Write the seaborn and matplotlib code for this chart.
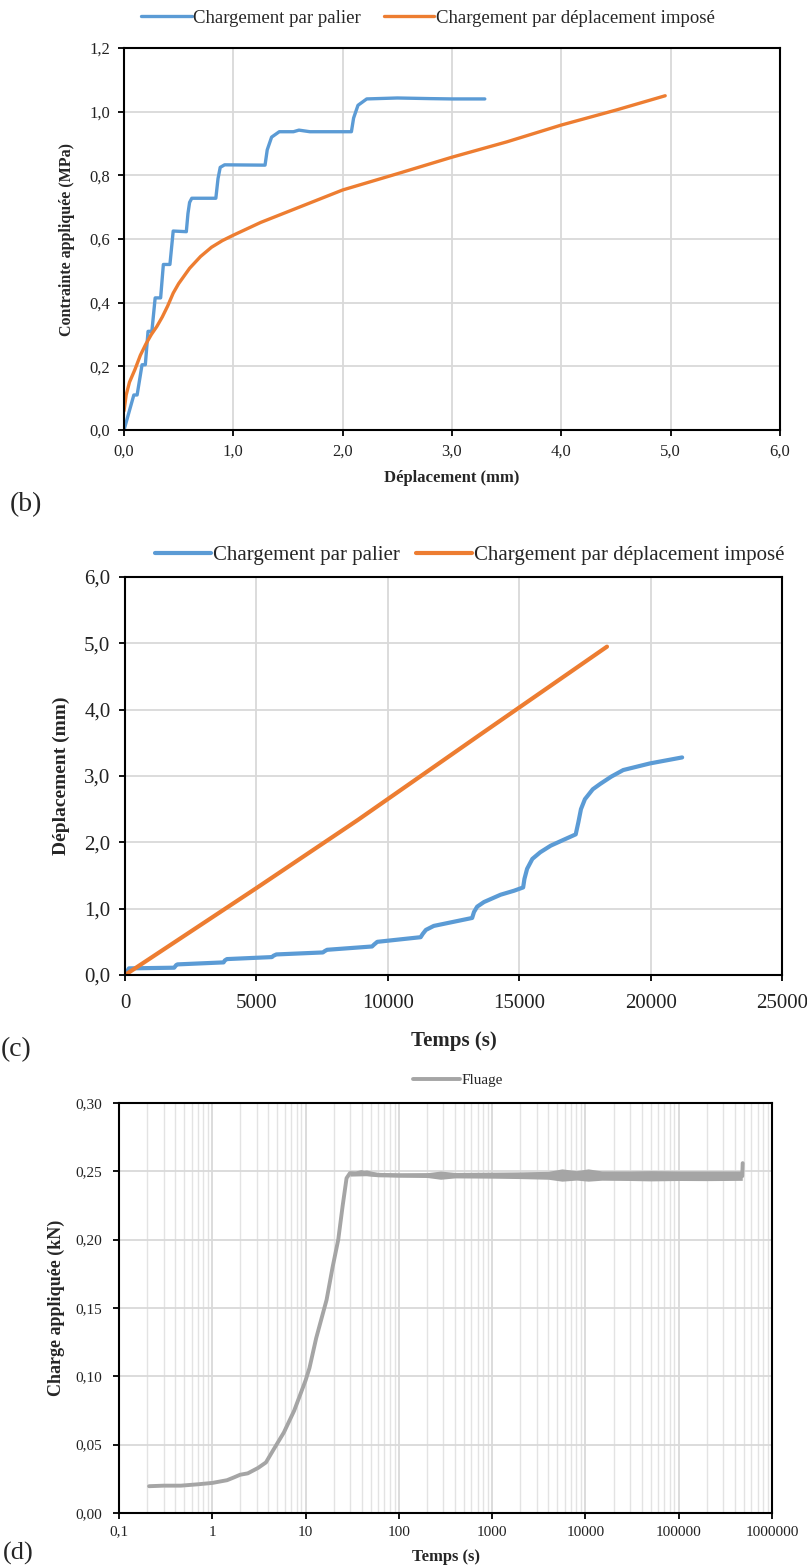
import matplotlib
matplotlib.use("Agg")
import matplotlib.pyplot as plt
import matplotlib.ticker as mticker
import pandas as pd
import seaborn as sns

sns.set_style("whitegrid")
plt.rcParams["font.family"] = ["Liberation Serif", "DejaVu Serif"]

BLUE = "#5B9BD5"
ORANGE = "#ED7D31"
GREY = "#A5A5A5"
GRID = "#D9D9D9"

# ---- (b) contrainte / deplacement ----
b_palier_x = [0.00, 0.09, 0.12, 0.165, 0.195, 0.22, 0.255, 0.285, 0.335, 0.36, 0.42, 0.45,
              0.57, 0.585, 0.60, 0.62, 0.84, 0.86, 0.88, 0.92, 1.29, 1.31, 1.35, 1.42,
              1.55, 1.60, 1.70, 2.08, 2.10, 2.14, 2.22, 2.50, 2.80, 3.00, 3.30]
b_palier_y = [0.00, 0.11, 0.11, 0.205, 0.205, 0.31, 0.31, 0.415, 0.415, 0.52, 0.52, 0.625,
              0.623, 0.68, 0.715, 0.728, 0.728, 0.79, 0.825, 0.833, 0.832, 0.88, 0.92, 0.937,
              0.937, 0.942, 0.937, 0.937, 0.98, 1.02, 1.04, 1.043, 1.041, 1.04, 1.04]
b_impose_x = [0.00, 0.02, 0.05, 0.10, 0.15, 0.20, 0.25, 0.30, 0.35, 0.40, 0.45, 0.50, 0.60,
              0.70, 0.80, 0.90, 1.00, 1.25, 1.50, 2.00, 2.50, 3.00, 3.50, 4.00, 4.50, 4.95]
b_impose_y = [0.06, 0.11, 0.15, 0.19, 0.235, 0.27, 0.30, 0.325, 0.355, 0.39, 0.43, 0.46, 0.508,
              0.545, 0.574, 0.595, 0.612, 0.652, 0.686, 0.754, 0.805, 0.857, 0.905, 0.958,
              1.005, 1.05]

# ---- (c) deplacement / temps ----
c_palier_t = [0, 150, 1870, 1950, 2000, 3750, 3800, 3880, 5590, 5650, 5760, 7530, 7600, 7690,
              9400, 9480, 9600, 11250, 11330, 11450, 11750, 13210, 13280, 13400, 13660, 14290,
              14800, 15150, 15200, 15300, 15500, 15800, 16200, 16700, 17150, 17250, 17350,
              17500, 17800, 18080, 18500, 18960, 19980, 21200]
c_palier_y = [0.0, 0.10, 0.11, 0.15, 0.16, 0.19, 0.22, 0.24, 0.27, 0.29, 0.31, 0.34, 0.36, 0.38,
              0.43, 0.46, 0.50, 0.57, 0.62, 0.68, 0.74, 0.86, 0.95, 1.03, 1.10, 1.21,
              1.27, 1.32, 1.45, 1.60, 1.75, 1.85, 1.95, 2.04, 2.12, 2.30, 2.50,
              2.65, 2.80, 2.88, 2.99, 3.09, 3.19, 3.28]
c_impose_t = [0, 5000, 8870, 13500, 18340]
c_impose_y = [0.0, 1.31, 2.34, 3.62, 4.95]

# ---- (d) fluage ----
d_t = [0.21, 0.3, 0.46, 0.7, 1.0, 1.2, 1.44, 1.7, 1.99, 2.4, 3.1, 3.76, 4.5, 5.86, 7.56, 10.0,
       11.0, 13.0, 16.8, 19.5, 22.4, 25.0, 27.5, 29.9, 35, 40, 45, 60, 100, 300, 1000, 3000,
       10000, 30000, 100000, 300000, 470000, 480000, 485000]
d_y = [0.0196, 0.020, 0.020, 0.021, 0.022, 0.023, 0.024, 0.026, 0.028, 0.029, 0.033, 0.037,
       0.046, 0.059, 0.075, 0.097, 0.106, 0.128, 0.156, 0.18, 0.20, 0.225, 0.245, 0.2487,
       0.2485, 0.2495, 0.248, 0.2475, 0.247, 0.247, 0.247, 0.247, 0.247, 0.247, 0.247,
       0.247, 0.247, 0.2465, 0.256]
d_band_t = [30, 45, 60, 100, 200, 280, 400, 1000, 2000, 4000, 5600, 8000, 10700, 15000,
            30000, 50000, 100000, 200000, 480000]
d_band_lo = [0.2465, 0.2468, 0.2460, 0.2458, 0.2455, 0.2442, 0.2452, 0.2450, 0.2447, 0.2442,
             0.2428, 0.2436, 0.2428, 0.2435, 0.2433, 0.2430, 0.2433, 0.2432, 0.2434]
d_band_hi = [0.2495, 0.2510, 0.2490, 0.2488, 0.2490, 0.2502, 0.2492, 0.2494, 0.2496, 0.2500,
             0.2518, 0.2505, 0.2518, 0.2503, 0.2503, 0.2505, 0.2503, 0.2503, 0.2503]

W, H = 807, 1568
fig = plt.figure(figsize=(W / 100, H / 100), dpi=100)


def px_axes(left, top, right, bottom):
    return fig.add_axes([left / W, 1 - bottom / H, (right - left) / W, (bottom - top) / H])


def style(ax, fs, pad):
    ax.grid(True, color=GRID, lw=1.3)
    for s in ax.spines.values():
        s.set_color("black")
        s.set_linewidth(1.5)
    ax.tick_params(axis="both", which="major", bottom=True, left=True, direction="out",
                   length=4, width=1.3, color="black", labelsize=fs, labelcolor="#222222",
                   pad=pad)


comma1 = mticker.FuncFormatter(lambda v, p: f"{v:.1f}".replace(".", ","))

# (b)
ax = px_axes(124, 48, 780, 430)
df = pd.DataFrame({"x": b_palier_x, "y": b_palier_y})
sns.lineplot(data=df, x="x", y="y", ax=ax, color=BLUE, lw=2.4, sort=False, estimator=None,
             label="Chargement par palier")
df = pd.DataFrame({"x": b_impose_x, "y": b_impose_y})
sns.lineplot(data=df, x="x", y="y", ax=ax, color=ORANGE, lw=2.4, sort=False, estimator=None,
             label="Chargement par déplacement imposé")
style(ax, 12, 6)
ax.set_xlim(0, 6)
ax.set_ylim(0, 1.2)
ax.xaxis.set_major_locator(mticker.MultipleLocator(1))
ax.yaxis.set_major_locator(mticker.MultipleLocator(0.2))
ax.xaxis.set_major_formatter(comma1)
ax.yaxis.set_major_formatter(comma1)
ax.set_xlabel("Déplacement (mm)", fontsize=12, fontweight="bold")
ax.set_ylabel("Contrainte appliquée (MPa)", fontsize=11.5, fontweight="bold")
ax.xaxis.set_label_coords(0.5, -0.105)
ax.yaxis.set_label_coords(-0.074, 0.5)
ax.legend(loc="center", bbox_to_anchor=(428 / W, 1 - 18 / H), bbox_transform=fig.transFigure,
          ncol=2, frameon=False, fontsize=13.5, handlelength=2.7, columnspacing=1.2,
          handletextpad=0.1)
fig.text(10 / W, 1 - 505 / H, "(b)", fontsize=20, va="center")

# (c)
ax = px_axes(125, 577, 782, 975)
df = pd.DataFrame({"t": c_palier_t, "d": c_palier_y})
sns.lineplot(data=df, x="t", y="d", ax=ax, color=BLUE, lw=3, sort=False, estimator=None,
             label="Chargement par palier")
df = pd.DataFrame({"t": c_impose_t, "d": c_impose_y})
sns.lineplot(data=df, x="t", y="d", ax=ax, color=ORANGE, lw=3, sort=False, estimator=None,
             label="Chargement par déplacement imposé")
style(ax, 15, 6.5)
ax.set_xlim(0, 25000)
ax.set_ylim(0, 6)
ax.xaxis.set_major_locator(mticker.MultipleLocator(5000))
ax.yaxis.set_major_locator(mticker.MultipleLocator(1))
ax.yaxis.set_major_formatter(comma1)
ax.tick_params(axis="x", pad=10)
ax.set_xlabel("Temps (s)", fontsize=15, fontweight="bold")
ax.set_ylabel("Déplacement (mm)", fontsize=14, fontweight="bold")
ax.xaxis.set_label_coords(0.5, -0.141)
ax.yaxis.set_label_coords(-0.084, 0.5)
ax.legend(loc="center", bbox_to_anchor=(470 / W, 1 - 555 / H), bbox_transform=fig.transFigure,
          ncol=2, frameon=False, fontsize=15, handlelength=2.7, columnspacing=0.75,
          handletextpad=0.1)
fig.text(1 / W, 1 - 1050 / H, "(c)", fontsize=20, va="center")

# (d)
ax = px_axes(119, 1103, 772, 1513)
ax.fill_between(d_band_t, d_band_lo, d_band_hi, color=GREY, lw=0)
df = pd.DataFrame({"t": d_t, "f": d_y})
sns.lineplot(data=df, x="t", y="f", ax=ax, color=GREY, lw=2.8, sort=False, estimator=None,
             label="Fluage")
ax.set_xscale("log")
style(ax, 11, 8)
ax.grid(True, which="minor", axis="x", color="#E3E3E3", lw=1.0)
ax.set_xlim(0.1, 1e6)
ax.set_ylim(0, 0.30)
ax.yaxis.set_major_locator(mticker.MultipleLocator(0.05))
ax.yaxis.set_major_formatter(mticker.FuncFormatter(lambda v, p: f"{v:.2f}".replace(".", ",")))
ax.xaxis.set_major_locator(mticker.LogLocator(base=10, numticks=10))
ax.xaxis.set_minor_locator(mticker.LogLocator(base=10, subs=range(2, 10), numticks=100))
ax.xaxis.set_minor_formatter(mticker.NullFormatter())
ax.xaxis.set_major_formatter(mticker.FuncFormatter(
    lambda v, p: f"{v:g}".replace(".", ",") if v < 1 else f"{int(round(v))}"))
ax.tick_params(axis="x", which="major", pad=5)
ax.tick_params(axis="x", which="minor", bottom=False)
ax.set_xlabel("Temps (s)", fontsize=12, fontweight="bold")
ax.set_ylabel("Charge appliquée (kN)", fontsize=13, fontweight="bold")
ax.xaxis.set_label_coords(0.5, -0.088)
ax.yaxis.set_label_coords(-0.083, 0.5)
ax.legend(loc="center", bbox_to_anchor=(458 / W, 1 - 1080 / H), bbox_transform=fig.transFigure,
          frameon=False, fontsize=11, handlelength=3.1, handletextpad=0.1)
fig.text(3 / W, 1 - 1553 / H, "(d)", fontsize=19, va="center")

fig.savefig("out.png", dpi=100)
